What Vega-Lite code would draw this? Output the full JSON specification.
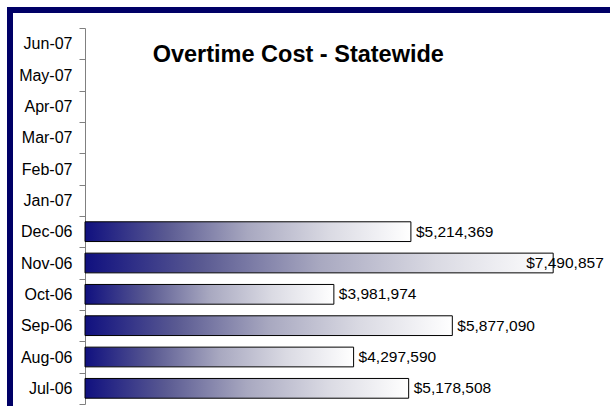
{
  "$schema": "https://vega.github.io/schema/vega-lite/v6.json",
  "autosize": {"type": "none"},
  "padding": {"left": 10, "top": 10, "right": 0, "bottom": 0},
  "width": 600,
  "height": 396,
  "background": "white",
  "view": {"stroke": "#000066", "strokeWidth": 6, "strokeDash": [600, 996, 2000], "strokeCap": "square", "fill": "white"},
  "config": {
    "font": "Liberation Sans"
  },
  "title": {
    "text": "Overtime Cost - Statewide",
    "anchor": "start",
    "frame": "group",
    "fontSize": 23.5,
    "fontWeight": "bold",
    "font": "Liberation Sans",
    "color": "black",
    "offset": 0,
    "dx": 142.7,
    "dy": 83,
    "baseline": "alphabetic"
  },
  "data": {
    "values": [
      {"month": "Jul-06", "cost": 5178508},
      {"month": "Aug-06", "cost": 4297590},
      {"month": "Sep-06", "cost": 5877090},
      {"month": "Oct-06", "cost": 3981974},
      {"month": "Nov-06", "cost": 7490857},
      {"month": "Dec-06", "cost": 5214369}
    ]
  },
  "encoding": {
    "y": {
      "field": "month",
      "type": "ordinal",
      "scale": {
        "domain": ["Jun-07", "May-07", "Apr-07", "Mar-07", "Feb-07", "Jan-07", "Dec-06", "Nov-06", "Oct-06", "Sep-06", "Aug-06", "Jul-06"],
        "range": [18, 394],
        "paddingInner": 0,
        "paddingOuter": 0
      },
      "axis": {
        "title": null,
        "offset": -75,
        "tickBand": "extent",
        "tickSize": 6,
        "tickColor": "#808080",
        "domainColor": "#808080",
        "domainWidth": 1,
        "labelFontSize": 16,
        "labelColor": "black",
        "labelPadding": 7,
        "labelFont": "Liberation Sans",
        "grid": false
      }
    },
    "x": {
      "field": "cost",
      "type": "quantitative",
      "scale": {"domain": [0, 8000000], "range": [75, 575], "nice": false},
      "axis": null
    }
  },
  "layer": [
    {
      "mark": {
        "type": "bar",
        "height": {"band": 0.63},
        "stroke": "black",
        "strokeWidth": 1,
        "fill": {
          "gradient": "linear",
          "x1": 0, "x2": 1, "y1": 0, "y2": 0,
          "stops": [
            {"offset": 0, "color": "#10107f"},
            {"offset": 0.25, "color": "#5a5a92"},
            {"offset": 0.5, "color": "#a8a8c0"},
            {"offset": 0.75, "color": "#dadae3"},
            {"offset": 1, "color": "#ffffff"}
          ]
        }
      }
    },
    {
      "transform": [{"filter": "datum.cost < 7000000"}],
      "mark": {"type": "text", "align": "left", "baseline": "middle", "dx": 5, "fontSize": 15.5, "color": "black", "font": "Liberation Sans"},
      "encoding": {"text": {"field": "cost", "type": "quantitative", "format": "$,.0f"}}
    },
    {
      "transform": [{"filter": "datum.cost >= 7000000"}],
      "mark": {"type": "text", "align": "left", "baseline": "middle", "dx": -27, "fontSize": 15.5, "color": "black", "font": "Liberation Sans"},
      "encoding": {"text": {"field": "cost", "type": "quantitative", "format": "$,.0f"}}
    }
  ]
}
